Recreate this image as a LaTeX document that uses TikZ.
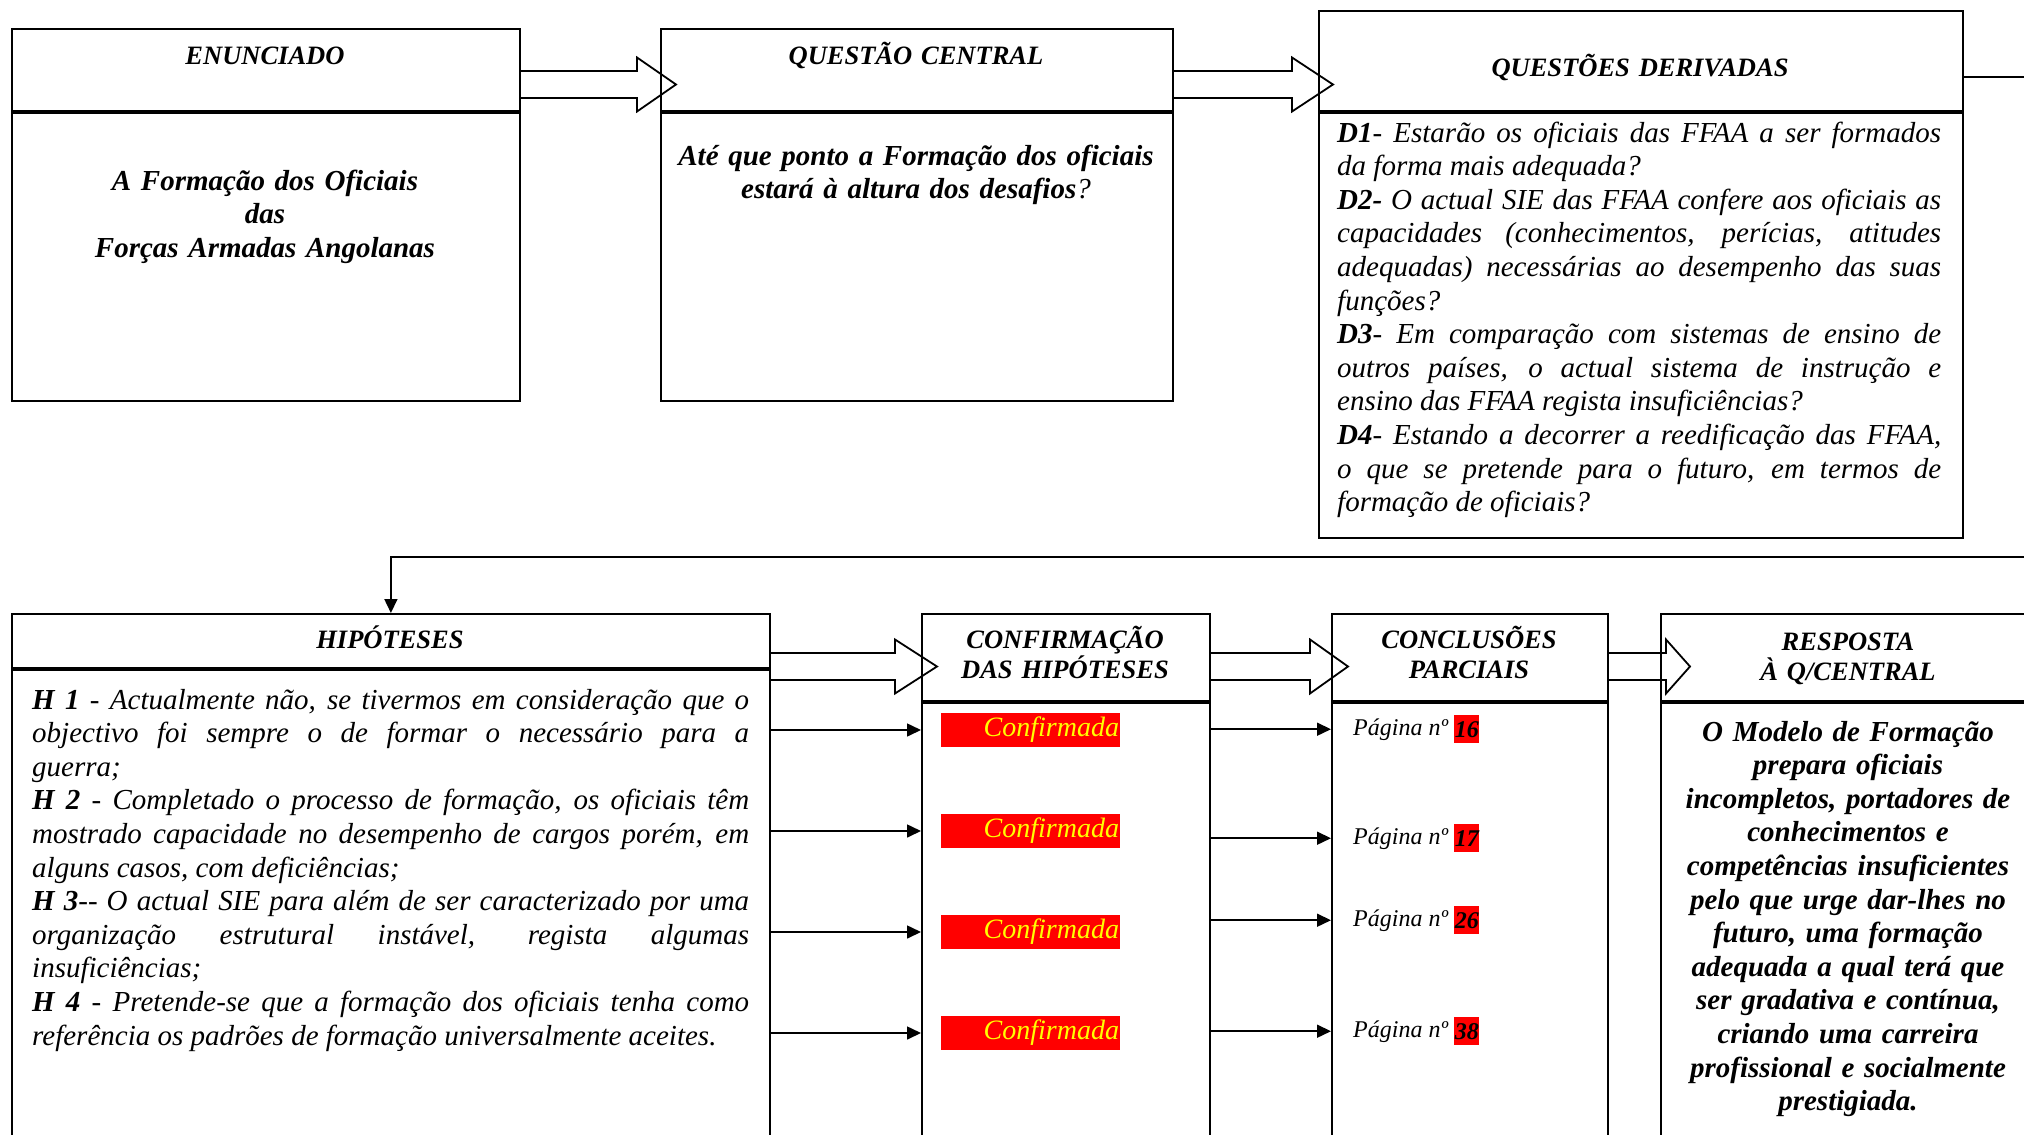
\documentclass[tikz,border=0pt]{standalone}
\usepackage{fontspec}
\setmainfont{Liberation Serif}
\usetikzlibrary{arrows.meta,calc,positioning}

\definecolor{tagred}{RGB}{255,0,0}
\definecolor{tagyellow}{RGB}{255,255,0}

\newcommand{\fatarrow}[3]{%
  \draw[fat arrow] ($(#1)+(0,-13.5)$) -- ($(#2)+(-#3,-13.5)$) -- ($(#2)+(-#3,-27)$) -- (#2)
    -- ($(#2)+(-#3,27)$) -- ($(#2)+(-#3,13.5)$) -- ($(#1)+(0,13.5)$);}

\begin{document}
\begin{tikzpicture}[x=1pt,y=-1pt,>={Triangle[length=14pt,width=13pt]},
    panel/.style={draw,line width=1.8pt,anchor=north west,inner sep=0pt},
    fat arrow/.style={line width=1.8pt,line join=miter},
    link/.style={->,line width=1.6pt},
    title/.style={anchor=base,align=center,inner sep=0pt,text width=360pt,
      font=\fontsize{26.5}{30}\selectfont\bfseries\itshape},
    body/.style={anchor=base west,inner sep=0pt,align=justify,
      font=\fontsize{29}{33.6}\selectfont\itshape},
    centre text/.style={anchor=base,inner sep=0pt,align=center,text width=#1,
      font=\fontsize{29}{33.6}\selectfont\bfseries\itshape},
    red tag/.style={fill=tagred,text=tagyellow,minimum height=34pt,text width=177pt,
      inner xsep=1pt,inner ysep=0pt,align=right,font=\fontsize{28}{30}\selectfont\itshape},
    page label/.style={anchor=base west,inner sep=0pt,font=\fontsize{24}{26}\selectfont\itshape},
    num tag/.style={fill=tagred,minimum width=25pt,minimum height=28pt,inner sep=0pt,
      font=\fontsize{24}{26}\selectfont\bfseries\itshape}]

  \useasboundingbox (0,0) rectangle (2024,1135);
  \clip (0,0) rectangle (2024,1135);
  \fill[white] (0,0) rectangle (2024,1135);

  % top row
  \node[panel,minimum width=508pt,minimum height=82pt]  (enunH) at (11,28) {};
  \node[panel,minimum width=508pt,minimum height=288pt] (enun) at (enunH.south west) {};
  \node[panel,minimum width=512pt,minimum height=82pt]  (qcH) at (660,28) {};
  \node[panel,minimum width=512pt,minimum height=288pt] (qc) at (qcH.south west) {};
  \node[panel,minimum width=644pt,minimum height=100pt] (qdH) at (1318,10) {};
  \node[panel,minimum width=644pt,minimum height=425pt] (qd) at (qdH.south west) {};

  \node[title] (enunT) at (265,64) {ENUNCIADO};
  \node[title] (qcT) at (916,64) {QUESTÃO CENTRAL};
  \node[title] (qdT) at (1640,76) {QUESTÕES DERIVADAS};

  \node[centre text=480pt] (enunB) at (265,190) {A Formação dos Oficiais\\das\\Forças Armadas Angolanas};
  \node[centre text=500pt] (qcB) at (916,165) {Até que ponto a Formação dos oficiais\\estará à altura dos desafios{\mdseries?}};
  \node[body,text width=604pt] (qdB) at (1337,142) {%
    \textbf{D1}- Estarão os oficiais das FFAA a ser formados\linebreak
    da forma mais adequada?\par
    \textbf{D2-} O actual SIE das FFAA confere aos oficiais as\linebreak
    capacidades (conhecimentos, perícias, atitudes\linebreak
    adequadas) necessárias ao desempenho das suas\linebreak
    funções?\par
    \textbf{D3}- Em comparação com sistemas de ensino de\linebreak
    outros países, o actual sistema de instrução e\linebreak
    ensino das FFAA regista insuficiências?\par
    \textbf{D4}- Estando a decorrer a reedificação das FFAA,\linebreak
    o que se pretende para o futuro, em termos de\linebreak
    formação de oficiais?};

  \coordinate (a1) at (enunH.east |- 0,84.5);
  \coordinate (a1t) at ($(qcH.west |- a1)+(16,0)$);
  \coordinate (a2) at (qcH.east |- 0,84.5);
  \coordinate (a2t) at ($(qdH.west |- a2)+(15,0)$);
  \fatarrow{a1}{a1t}{39}
  \fatarrow{a2}{a2t}{41}

  % bottom row
  \node[panel,minimum width=758pt,minimum height=54pt]  (hipH) at (11,613) {};
  \node[panel,minimum width=758pt,minimum height=520pt] (hip) at (hipH.south west) {};
  \node[panel,minimum width=288pt,minimum height=87pt]  (confH) at (921,613) {};
  \node[panel,minimum width=288pt,minimum height=500pt] (conf) at (confH.south west) {};
  \node[panel,minimum width=276pt,minimum height=87pt]  (concH) at (1331,613) {};
  \node[panel,minimum width=276pt,minimum height=500pt] (conc) at (concH.south west) {};
  \node[panel,minimum width=376pt,minimum height=87pt]  (respH) at (1660,613) {};
  \node[panel,minimum width=376pt,minimum height=500pt] (resp) at (respH.south west) {};

  \node[title] (hipT) at (390,648) {HIPÓTESES};
  \node[title] (confT) at (1065,648) {CONFIRMAÇÃO\\DAS HIPÓTESES};
  \node[title] (concT) at (1469,648) {CONCLUSÕES\\PARCIAIS};
  \node[title] (respT) at (1848,650) {RESPOSTA\\À Q/CENTRAL};

  \node[body,text width=717pt] (hipB) at (32,709) {%
    \textbf{H 1} - Actualmente não, se tivermos em consideração que o\linebreak
    objectivo foi sempre o de formar o necessário para a\linebreak
    guerra;\par
    \textbf{H 2} - Completado o processo de formação, os oficiais têm\linebreak
    mostrado capacidade no desempenho de cargos porém, em\linebreak
    alguns casos, com deficiências;\par
    \textbf{H 3}-{}- O actual SIE para além de ser caracterizado por uma\linebreak
    organização estrutural instável, regista algumas\linebreak
    insuficiências;\par
    \textbf{H 4} - Pretende-se que a formação dos oficiais tenha como\linebreak
    referência os padrões de formação universalmente aceites.};

  \node[red tag] (c1) at (1030.5,730) {Confirmada};
  \node[red tag] (c2) at (1030.5,831) {Confirmada};
  \node[red tag] (c3) at (1030.5,932) {Confirmada};
  \node[red tag] (c4) at (1030.5,1033) {Confirmada};

  \node[page label] (p1) at (1353,735) {Página nº};
  \node[page label] (p2) at (1353,844) {Página nº};
  \node[page label] (p3) at (1353,926) {Página nº};
  \node[page label] (p4) at (1353,1037) {Página nº};
  \node[num tag,right=6pt of p1] (n1) {16};
  \node[num tag,right=6pt of p2] (n2) {17};
  \node[num tag,right=6pt of p3] (n3) {26};
  \node[num tag,right=6pt of p4] (n4) {38};

  \node[centre text=370pt] (respB) at (1848,741) {O Modelo de Formação\\prepara oficiais\\incompletos, portadores de\\conhecimentos e\\competências insuficientes\\pelo que urge dar-lhes no\\futuro, uma formação\\adequada a qual terá que\\ser gradativa e contínua,\\criando uma carreira\\profissional e socialmente\\prestigiada.};

  \coordinate (b1) at (hipH.east |- 0,666.5);
  \coordinate (b1t) at ($(confH.west |- b1)+(16,0)$);
  \coordinate (b2) at (confH.east |- b1);
  \coordinate (b2t) at ($(concH.west |- b1)+(17,0)$);
  \coordinate (b3) at (concH.east |- b1);
  \coordinate (b3t) at ($(respH.west |- b1)+(30,0)$);
  \fatarrow{b1}{b1t}{42}
  \fatarrow{b2}{b2t}{38}
  \fatarrow{b3}{b3t}{24}

  \foreach \i in {1,...,4}{
    \draw[link] (hip.east |- c\i) -- (conf.west |- c\i);
    \draw[link] (conf.east |- p\i) -- (conc.west |- p\i);
  }

  % link from the derived questions round to the hypotheses
  \coordinate (farA) at (2045,77);
  \coordinate (farB) at (2045,557);
  \draw[link] (qdH.east |- farA) -- (farA) -- (farB) -| (hipH.north);

\end{tikzpicture}
\end{document}
